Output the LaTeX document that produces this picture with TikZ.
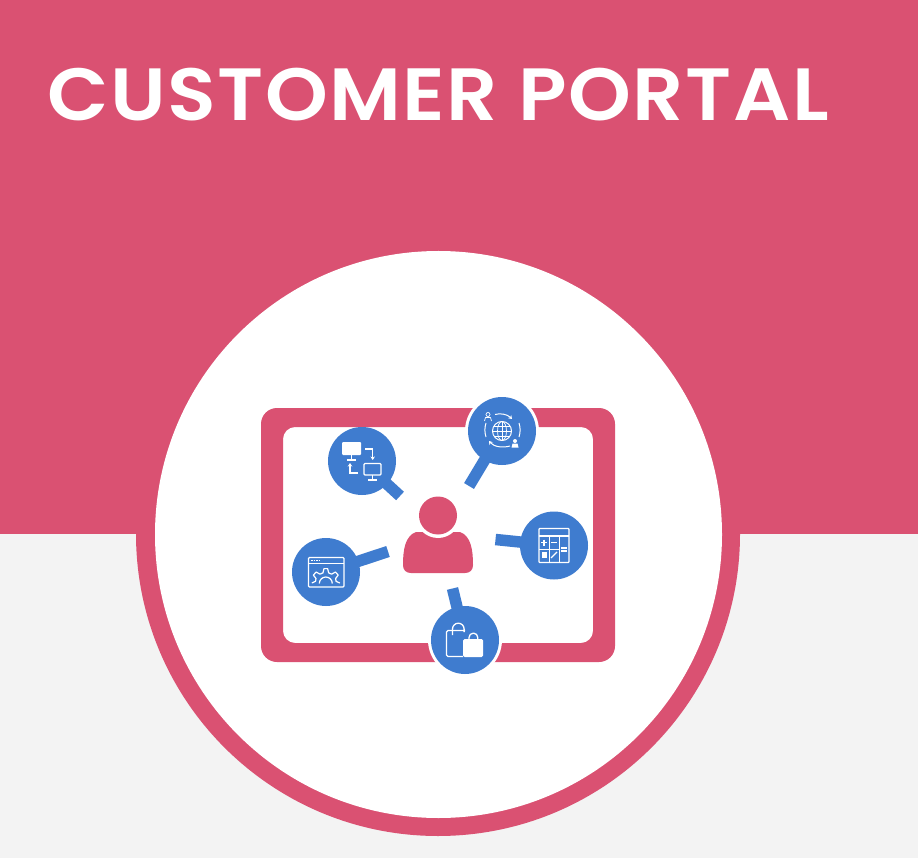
\documentclass[tikz,border=0pt]{standalone}
\usepackage{fontspec}
\setmainfont{Poppins}
\newfontfamily\titlefont[LetterSpace=1.9]{Poppins SemiBold}
\usetikzlibrary{arrows.meta}
\definecolor{rosepink}{HTML}{DA5172}
\definecolor{paper}{HTML}{F3F3F3}
\definecolor{pinblue}{HTML}{3F7CCF}
\tikzset{
  pinhead/.style={circle,fill=pinblue,draw=none,minimum size=68pt,inner sep=0pt},
  pinhalo/.style={fill=white},
  pinstem/.style={draw=pinblue,line width=11.5pt},
  icon/.style={draw=white,line width=1.3pt,fill=none,line join=round},
  iconfill/.style={fill=white,draw=none},
  iconarrow/.style={draw=white,line width=1.3pt,-{Stealth[length=3.5pt,width=4.5pt]}},
}
\begin{document}
\begin{tikzpicture}[x=1pt,y=-1pt]
\useasboundingbox (0,0) rectangle (918,858);
\fill[paper] (0,0) rectangle (918,858);
\fill[rosepink] (0,0) rectangle (918,534);
\fill[rosepink] (438,534) circle[radius=302];
\fill[white] (438.5,534.5) circle[radius=283.5];
\node[anchor=west,text=white,inner sep=0pt,xscale=1.08,font=\fontsize{74}{74}\selectfont\titlefont] (title) at (47,95) {CUSTOMER PORTAL};
% frame
\fill[rosepink,even odd rule,rounded corners=16pt] (261,408) rectangle (615,662)
  [rounded corners=12pt] (283,427) rectangle (593,643);
% person
\fill[rosepink] (411,573) .. controls (406,573) and (403,570) .. (403,565)
  .. controls (403,550) and (405,536) .. (416,532) -- (460,532)
  .. controls (471,536) and (473,550) .. (473,565)
  .. controls (473,570) and (470,573) .. (465,573) -- cycle;
\fill[white] (438,515.5) circle[radius=22.5];
\node[circle,fill=rosepink,minimum size=38pt,inner sep=0,draw=none] (head) at (438,515.5) {};
% pin coordinates and heads
\coordinate (tipA) at (400,496);
\coordinate (tipB) at (469,486);
\coordinate (tipC) at (495.5,539.5);
\coordinate (tipD) at (388,551.5);
\coordinate (tipE) at (452.5,588.5);
\coordinate (cA) at (362,461);
\coordinate (cB) at (502,431);
\coordinate (cC) at (554,545.5);
\coordinate (cD) at (326,572);
\coordinate (cE) at (465,640);
\fill[pinhalo] (cB) circle[radius=37];
\fill[pinhalo] (cE) circle[radius=37];
\draw[pinstem] (cA) -- (tipA);
\draw[pinstem] (cB) -- (tipB);
\draw[pinstem] (cC) -- (tipC);
\draw[pinstem] (cD) -- (tipD);
\draw[pinstem] (cE) -- (tipE);
\node[pinhead] (pinA) at (cA) {};
\node[pinhead] (pinB) at (cB) {};
\node[pinhead] (pinC) at (cC) {};
\node[pinhead] (pinD) at (cD) {};
\node[pinhead] (pinE) at (cE) {};
% icon A: monitors
\fill[white,rounded corners=1pt] (342,442) rectangle (361,455);
\draw[icon] (351.5,455) -- (351.5,459.5) (347,460) -- (356,460);
\draw[icon,rounded corners=1pt] (364,463.5) rectangle (381,475);
\draw[icon] (372.5,475) -- (372.5,479.5) (368,480) -- (377,480);
\draw[iconarrow] (365,449) -- (372.7,449) -- (372.7,460);
\draw[iconarrow] (358,473) -- (350,473) -- (350,463);
% icon B: globe
\draw[icon,line width=1pt] (502,431) circle[radius=9.5];
\draw[icon,line width=.7pt] (502,431) ellipse[x radius=4.5,y radius=9.5];
\draw[icon,line width=.7pt] (502,421.5) -- (502,440.5) (492.5,431) -- (511.5,431) (494,426) -- (510,426) (494,436) -- (510,436);
\draw[iconarrow,line width=1pt] (495,414.5) .. controls (500,413) and (507,414) .. (512,419);
\draw[iconarrow,line width=1pt] (510,446) .. controls (503,448) and (494,447) .. (489,441);
\draw[icon,line width=1pt] (486,423) .. controls (484.5,428) and (484.5,432) .. (486,437);
\draw[icon,line width=1pt] (519,423) .. controls (520.5,428) and (520.5,432) .. (519,437);
\draw[icon,line width=.7pt] (488,414.5) circle[radius=2];
\draw[icon,line width=.7pt] (484.5,421) -- (485.5,417.5) -- (490.5,417.5) -- (491.5,421);
\fill[white] (515,441) circle[radius=2];
\fill[white] (511.5,447.5) -- (512.5,443.5) -- (517.5,443.5) -- (518.5,447.5) -- cycle;
% icon C: calculator
\draw[icon,rounded corners=.8pt] (539,528.5) rectangle (569,562.5);
\draw[icon] (539,536) -- (569,536);
\draw[icon,line width=1pt] (559,536) -- (559,562.5) (549,536) -- (549,562.5) (539,549) -- (559,549);
\draw[icon,line width=1.1pt] (541,542.5) -- (547,542.5) (544,539.5) -- (544,545.5) (551,542.5) -- (557,542.5) (561,548) -- (567,548) (561,551) -- (567,551);
\fill[white] (541.5,552) rectangle (546.5,558);
\draw[icon,line width=1.1pt] (551,558) -- (557,552);
% icon D: window with gear
\draw[icon,rounded corners=1pt] (308.5,557.5) rectangle (344,587);
\draw[icon,line width=1pt] (308.5,563) -- (344,563);
\draw[icon,line width=.7pt,dash pattern=on 1.5pt off 1pt] (311,560.3) -- (320,560.3);
\begin{scope}[shift={(325.8,583.5)}]
\draw[icon,line width=1.2pt] (-178:14) -- (-168:10.5) -- (-153:11) -- (-146:15) -- (-130:15) -- (-122:11) -- (-105:11) -- (-97:15) -- (-83:15) -- (-75:11) -- (-58:11) -- (-50:15) -- (-34:15) -- (-27:11) -- (-12:10.5) -- (-2:14);
\draw[icon,line width=1.2pt] (180:6.5) arc[start angle=180,end angle=360,radius=6.5];
\end{scope}
% icon E: bags
\draw[icon,rounded corners=1.5pt] (463,656.5) -- (446.5,656.5) -- (446.5,630.5) -- (465,630.5);
\draw[icon] (452.5,635) -- (452.5,629) arc[start angle=180,end angle=360,radius=5.8] -- (464.1,632);
\fill[white,rounded corners=1.5pt] (463,639) rectangle (483,657);
\draw[icon] (469,642) -- (469,637.5) arc[start angle=180,end angle=360,radius=4.4] -- (477.8,642);
\end{tikzpicture}
\end{document}
